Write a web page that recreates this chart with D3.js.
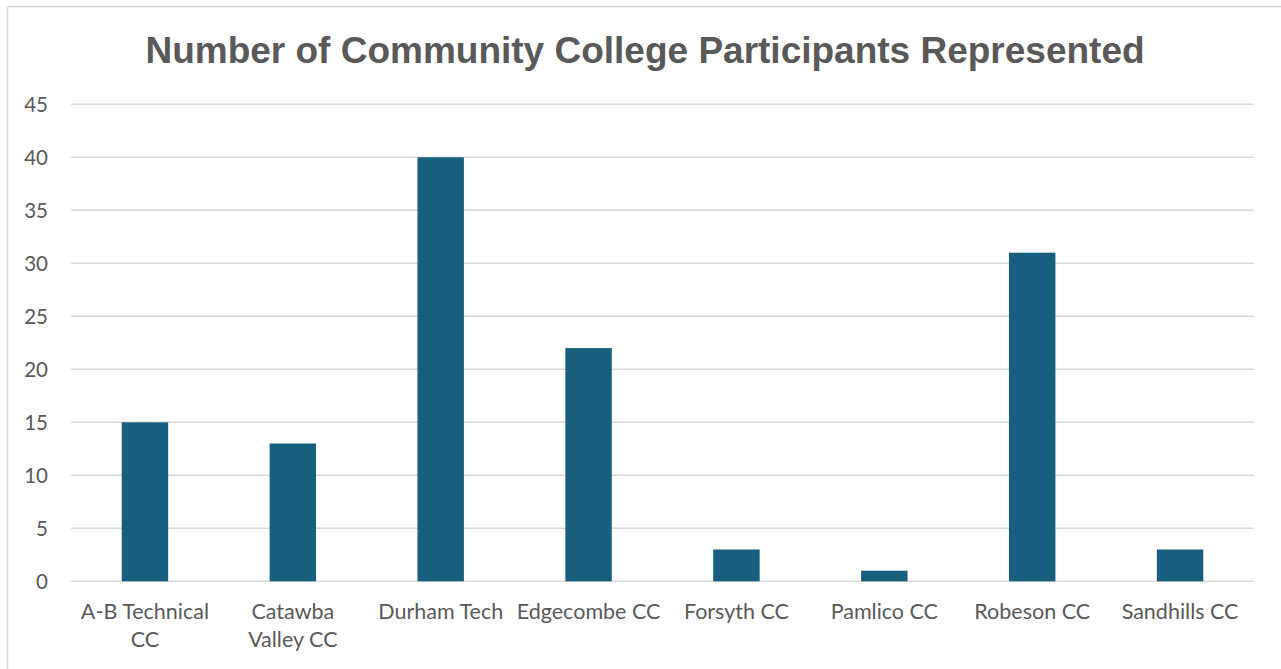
<!DOCTYPE html>
<html><head><meta charset="utf-8">
<script src="https://cdn.jsdelivr.net/npm/d3@7"></script>
<style>body{margin:0;background:#fff;}svg{display:block;}</style>
</head><body>
<script>
const categories = ["A-B Technical CC","Catawba Valley CC","Durham Tech","Edgecombe CC","Forsyth CC","Pamlico CC","Robeson CC","Sandhills CC"];
const labelLines = [["A-B Technical","CC"],["Catawba","Valley CC"],["Durham Tech"],["Edgecombe CC"],["Forsyth CC"],["Pamlico CC"],["Robeson CC"],["Sandhills CC"]];
const values = [15,13,40,22,3,1,31,3];
const yTicks = [0,5,10,15,20,25,30,35,40,45];
const title = "Number of Community College Participants Represented";

(function(){
const W=1281,H=669;
const svg=d3.select("body").append("svg").attr("width",W).attr("height",H);
svg.append("rect").attr("x",7.5).attr("y",6.5).attr("width",W).attr("height",H).attr("fill","#fff").attr("stroke","#d9d9d9").attr("stroke-width",1.5);

const pLeft=71,pRight=1254,pTop=104.3,pBottom=581.3;
const x=d3.scaleBand().domain(categories).range([pLeft,pRight]).paddingInner(0.686).paddingOuter(0.343);
const y=d3.scaleLinear().domain([0,45]).range([pBottom,pTop]);

svg.append("g").selectAll("line").data(yTicks).join("line")
  .attr("x1",pLeft).attr("x2",pRight).attr("y1",d=>y(d)).attr("y2",d=>y(d))
  .attr("stroke","#d9d9d9").attr("stroke-width",1.5);

const yAxis=d3.axisLeft(y).tickValues(yTicks).tickSize(0).tickPadding(0);
const ga=svg.append("g").attr("transform",`translate(48,0)`).call(yAxis);
ga.select(".domain").remove();
ga.selectAll("text").attr("font-family","Lato, 'Open Sans', sans-serif").attr("font-size",20.5).attr("fill","#595959").attr("dy","0.35em");

svg.append("g").selectAll("rect").data(values).join("rect")
  .attr("x",(d,i)=>x(categories[i])).attr("width",x.bandwidth())
  .attr("y",d=>y(d)).attr("height",d=>y(0)-y(d)).attr("fill","#175e7f");

const xAxis=d3.axisBottom(x).tickSize(0).tickFormat("");
const gx=svg.append("g").attr("transform",`translate(0,${pBottom})`).call(xAxis);
gx.select(".domain").remove();
gx.selectAll(".tick").each(function(d,i){
  const t=d3.select(this).append("text").attr("text-anchor","middle")
    .attr("font-family","Lato, 'Open Sans', sans-serif").attr("font-size",21.5).attr("fill","#595959");
  labelLines[i].forEach((s,j)=>t.append("tspan").attr("x",0).attr("y",38+j*28).text(s));
});

svg.append("text").attr("x",645).attr("y",63).attr("text-anchor","middle")
  .attr("font-family","'Liberation Sans', Arial, sans-serif").attr("font-weight","bold")
  .attr("font-size",37).attr("fill","#595959").text(title);
})();
</script>
</body></html>
